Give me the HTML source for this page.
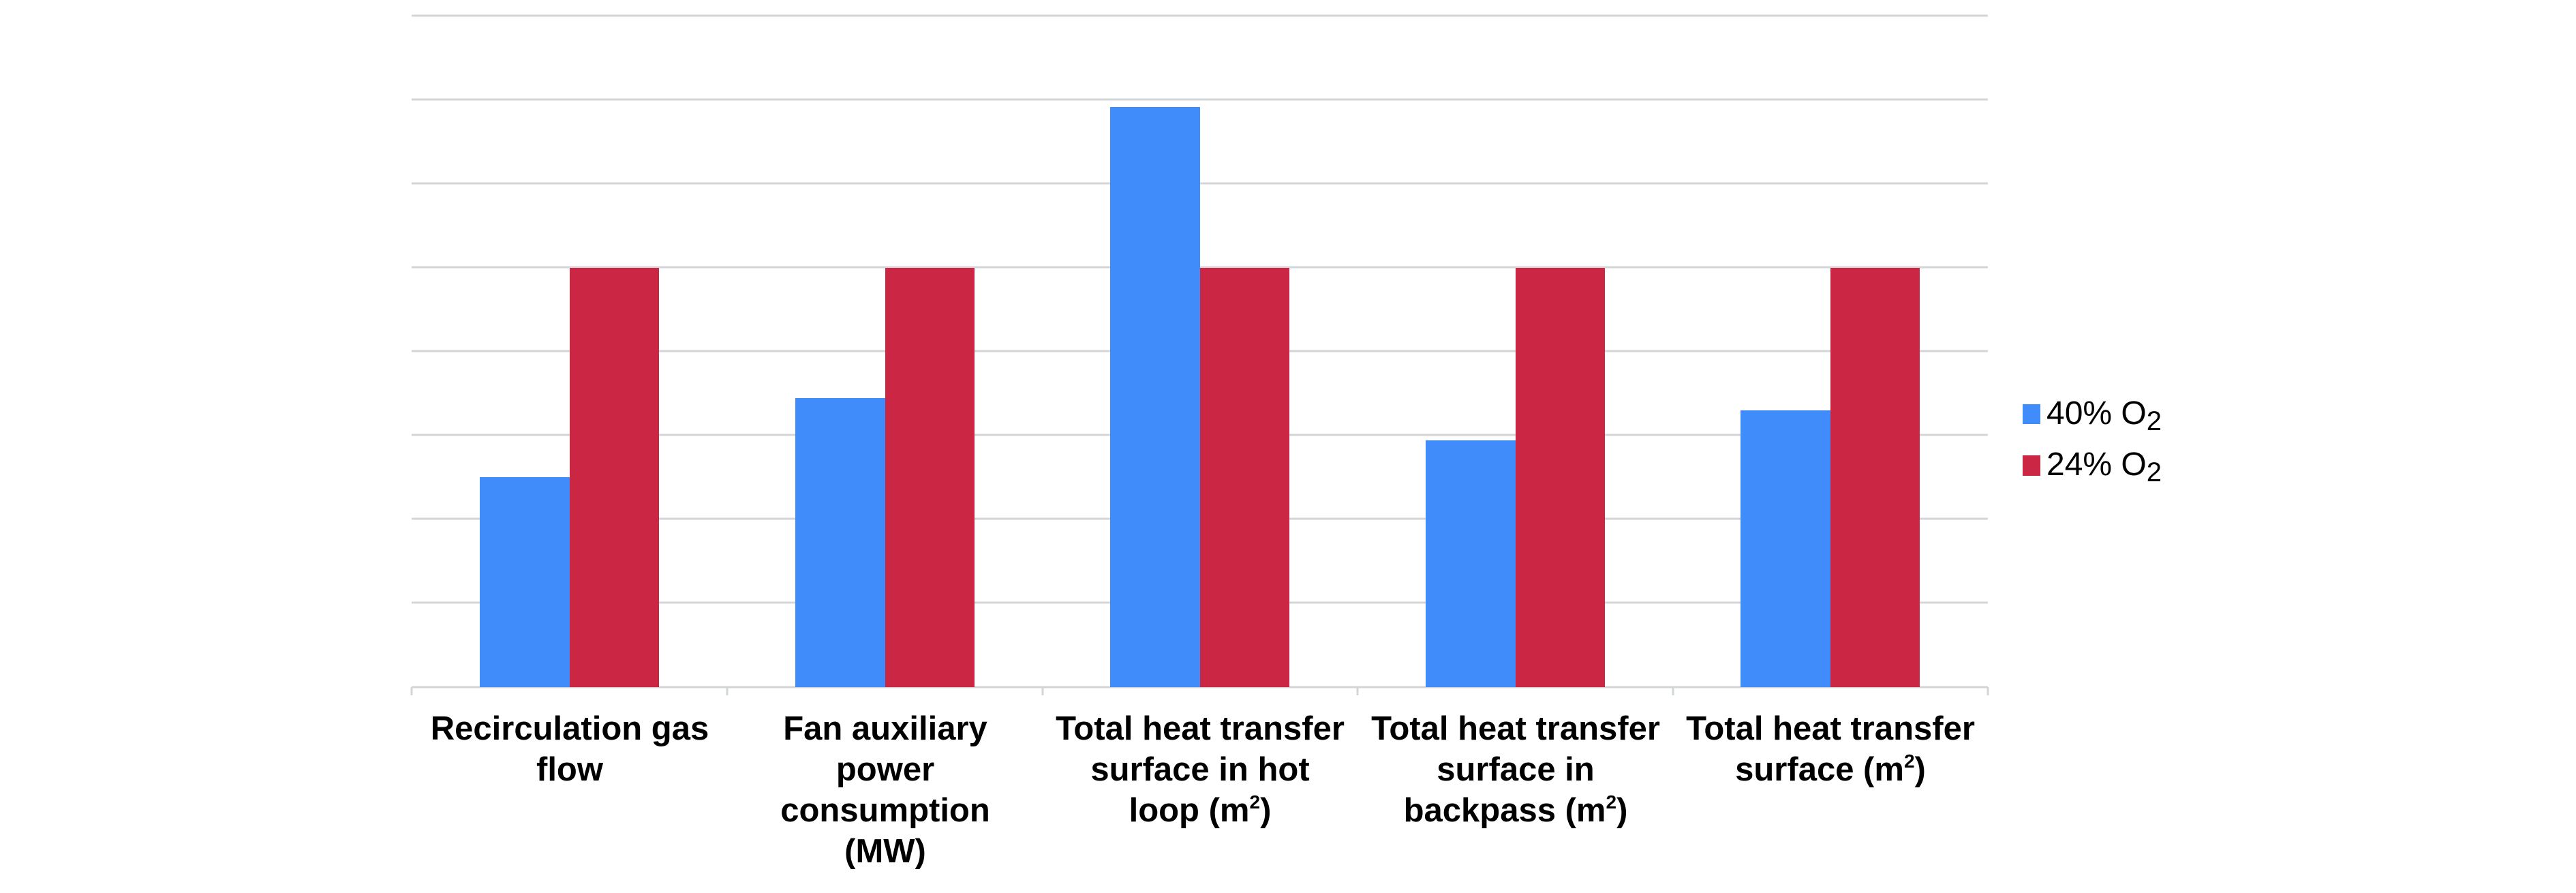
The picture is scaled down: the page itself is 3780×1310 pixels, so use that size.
<!DOCTYPE html>
<html><head><meta charset="utf-8"><style>
body{margin:0;background:#fff;}
svg{display:block;}
text{font-family:"Liberation Sans",Arial,sans-serif;}
.l{font-weight:bold;font-size:49px;text-anchor:middle;fill:#000;}
</style></head><body>
<svg width="3780" height="1310" viewBox="0 0 3780 1310" xmlns="http://www.w3.org/2000/svg">
<g stroke="#d2d6d8" stroke-width="3">
<line x1="604" x2="2917" y1="23" y2="23"/>
<line x1="604" x2="2917" y1="146" y2="146"/>
<line x1="604" x2="2917" y1="269" y2="269"/>
<line x1="604" x2="2917" y1="392" y2="392"/>
<line x1="604" x2="2917" y1="515" y2="515"/>
<line x1="604" x2="2917" y1="638" y2="638"/>
<line x1="604" x2="2917" y1="761" y2="761"/>
<line x1="604" x2="2917" y1="884" y2="884"/>
<line x1="604" x2="2917" y1="1008" y2="1008"/>
<line x1="604" x2="604" y1="1008" y2="1020"/>
<line x1="1067" x2="1067" y1="1008" y2="1020"/>
<line x1="1530" x2="1530" y1="1008" y2="1020"/>
<line x1="1992" x2="1992" y1="1008" y2="1020"/>
<line x1="2455" x2="2455" y1="1008" y2="1020"/>
<line x1="2917" x2="2917" y1="1008" y2="1020"/>
</g>
<g fill="#418cfb">
<rect x="704" y="700" width="132" height="308"/>
<rect x="1167" y="584" width="132" height="424"/>
<rect x="1629" y="157" width="132" height="851"/>
<rect x="2092" y="646" width="132" height="362"/>
<rect x="2554" y="602" width="132" height="406"/>
</g>
<g fill="#cc2645">
<rect x="836" y="393" width="131" height="615"/>
<rect x="1299" y="393" width="131" height="615"/>
<rect x="1761" y="393" width="131" height="615"/>
<rect x="2224" y="393" width="131" height="615"/>
<rect x="2686" y="393" width="131" height="615"/>
</g>
<rect x="2968" y="593" width="26" height="29" fill="#418cfb"/>
<rect x="2968" y="668" width="26" height="30" fill="#cc2645"/>
<text x="3003" y="622" font-size="48">40% O<tspan font-size="40" dy="9">2</tspan></text>
<text x="3003" y="697" font-size="48">24% O<tspan font-size="40" dy="9">2</tspan></text>
<text class="l" x="836" y="1085">Recirculation gas</text>
<text class="l" x="836" y="1145">flow</text>
<text class="l" x="1299" y="1085">Fan auxiliary</text>
<text class="l" x="1299" y="1145">power</text>
<text class="l" x="1299" y="1205">consumption</text>
<text class="l" x="1299" y="1265">(MW)</text>
<text class="l" x="1761" y="1085">Total heat transfer</text>
<text class="l" x="1761" y="1145">surface in hot</text>
<text class="l" x="1761" y="1205">loop  (m<tspan font-size="28" dy="-19">2</tspan><tspan dy="19">)</tspan></text>
<text class="l" x="2224" y="1085">Total heat transfer</text>
<text class="l" x="2224" y="1145">surface in</text>
<text class="l" x="2224" y="1205">backpass (m<tspan font-size="28" dy="-19">2</tspan><tspan dy="19">)</tspan></text>
<text class="l" x="2686" y="1085">Total heat transfer</text>
<text class="l" x="2686" y="1145">surface  (m<tspan font-size="28" dy="-19">2</tspan><tspan dy="19">)</tspan></text>
</svg>
</body></html>
